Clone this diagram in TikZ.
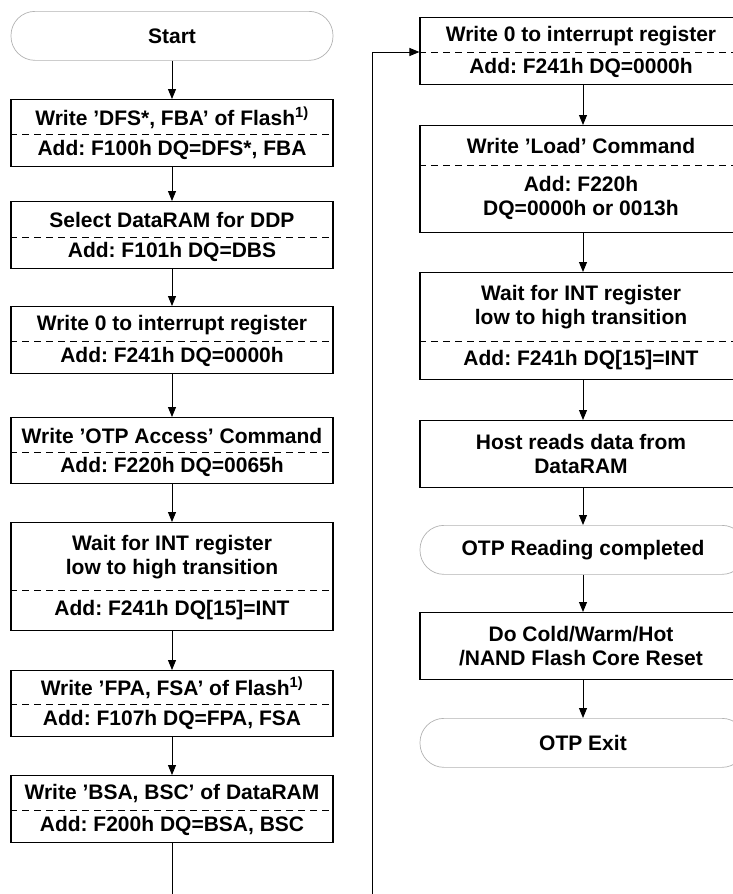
\documentclass[tikz,border=0pt]{standalone}
\usepackage{fontspec}
\setmainfont{Liberation Sans}
\usetikzlibrary{arrows.meta}
\frenchspacing

\tikzset{
  boite/.style={draw, line width=1.1pt, minimum width=322pt, inner sep=0pt, anchor=north},
  borne/.style={draw=gray!60, line width=0.7pt, rounded corners=24pt, minimum width=322pt,
    minimum height=49pt, inner sep=0pt, anchor=north, font=\bfseries\fontsize{21}{24}\selectfont},
  texte/.style={align=center, inner sep=0pt, font=\bfseries\fontsize{21}{24}\selectfont},
  sep/.style={dash pattern=on 7pt off 5pt, line width=0.8pt},
  fleche/.style={-{Triangle[length=10pt,width=8pt]}, line width=0.9pt},
}

\begin{document}
\begin{tikzpicture}[x=1pt, y=-1pt]
  \useasboundingbox (0,0) rectangle (733,894);
  \clip (0,0) rectangle (733,894);

  % Colonne de gauche
  \node[borne] (start) at (172,11) {Start};

  \node[boite, minimum height=67pt] (dfs) at (172,99) {};
  \draw[sep] (dfs.west |- 0,134) -- (dfs.east |- 0,134);
  \node[texte] at (172,118) {Write ’DFS*, FBA’ of Flash\textsuperscript{1)}};
  \node[texte] at (172,150) {Add: F100h DQ=DFS*, FBA};

  \node[boite, minimum height=67pt] (ddp) at (172,201) {};
  \draw[sep] (ddp.west |- 0,237) -- (ddp.east |- 0,237);
  \node[texte] at (172,220) {Select DataRAM for DDP};
  \node[texte] at (172,252) {Add: F101h DQ=DBS};

  \node[boite, minimum height=67pt] (irq) at (172,306) {};
  \draw[sep] (irq.west |- 0,341) -- (irq.east |- 0,341);
  \node[texte] at (172,325) {Write 0 to interrupt register};
  \node[texte] at (172,357) {Add: F241h DQ=0000h};

  \node[boite, minimum height=66pt] (otp) at (172,417) {};
  \draw[sep] (otp.west |- 0,452) -- (otp.east |- 0,452);
  \node[texte] at (172,436) {Write ’OTP Access’ Command};
  \node[texte] at (172,467) {Add: F220h DQ=0065h};

  \node[boite, minimum height=108pt] (wait) at (172,522) {};
  \draw[sep] (wait.west |- 0,590) -- (wait.east |- 0,590);
  \node[texte] at (172,557) {Wait for INT register\\low to high transition};
  \node[texte] at (172,610) {Add: F241h DQ[15]=INT};

  \node[boite, minimum height=66pt] (fpa) at (172,670) {};
  \draw[sep] (fpa.west |- 0,704) -- (fpa.east |- 0,704);
  \node[texte] at (172,688) {Write ’FPA, FSA’ of Flash\textsuperscript{1)}};
  \node[texte] at (172,720) {Add: F107h DQ=FPA, FSA};

  \node[boite, minimum height=67pt] (bsa) at (172,775) {};
  \draw[sep] (bsa.west |- 0,810) -- (bsa.east |- 0,810);
  \node[texte] at (172,794) {Write ’BSA, BSC’ of DataRAM};
  \node[texte] at (172,826) {Add: F200h DQ=BSA, BSC};

  % Colonne de droite
  \node[boite, minimum width=326pt, minimum height=67pt] (irq2) at (583,17) {};
  \draw[sep] (irq2.west |- 0,52) -- (irq2.east |- 0,52);
  \node[texte] at (581,36) {Write 0 to interrupt register};
  \node[texte] at (581,68) {Add: F241h DQ=0000h};

  \node[boite, minimum width=326pt, minimum height=107pt] (load) at (583,125) {};
  \draw[sep] (load.west |- 0,165) -- (load.east |- 0,165);
  \node[texte] at (581,146) {Write ’Load’ Command};
  \node[texte] at (581,198) {Add: F220h\\DQ=0000h or 0013h};

  \node[boite, minimum width=326pt, minimum height=107pt] (wait2) at (583,272) {};
  \draw[sep] (wait2.west |- 0,341) -- (wait2.east |- 0,341);
  \node[texte] at (581,307) {Wait for INT register\\low to high transition};
  \node[texte] at (581,360) {Add: F241h DQ[15]=INT};

  \node[boite, minimum width=326pt, minimum height=67pt] (host) at (583,420) {};
  \node[texte] at (581,454) {Host reads data from\\DataRAM};

  \node[borne, minimum width=326pt] (done) at (583,525) {OTP Reading completed};

  \node[boite, minimum width=326pt, minimum height=67pt] (reset) at (583,612) {};
  \node[texte] at (581,646) {Do Cold/Warm/Hot\\/NAND Flash Core Reset};

  \node[borne, minimum width=326pt] (exit) at (583,718) {OTP Exit};

  % Fleches
  \draw[fleche] (start) -- (dfs);
  \draw[fleche] (dfs) -- (ddp);
  \draw[fleche] (ddp) -- (irq);
  \draw[fleche] (irq) -- (otp);
  \draw[fleche] (otp) -- (wait);
  \draw[fleche] (wait) -- (fpa);
  \draw[fleche] (fpa) -- (bsa);

  % Retour vers la colonne de droite
  \coordinate (bas) at (372,940);
  \draw[fleche] (bsa.south) |- (bas) |- (irq2.west |- 0,52);

  \draw[fleche] (irq2) -- (load);
  \draw[fleche] (load) -- (wait2);
  \draw[fleche] (wait2) -- (host);
  \draw[fleche] (host) -- (done);
  \draw[fleche] (done) -- (reset);
  \draw[fleche] (reset) -- (exit);
\end{tikzpicture}
\end{document}
